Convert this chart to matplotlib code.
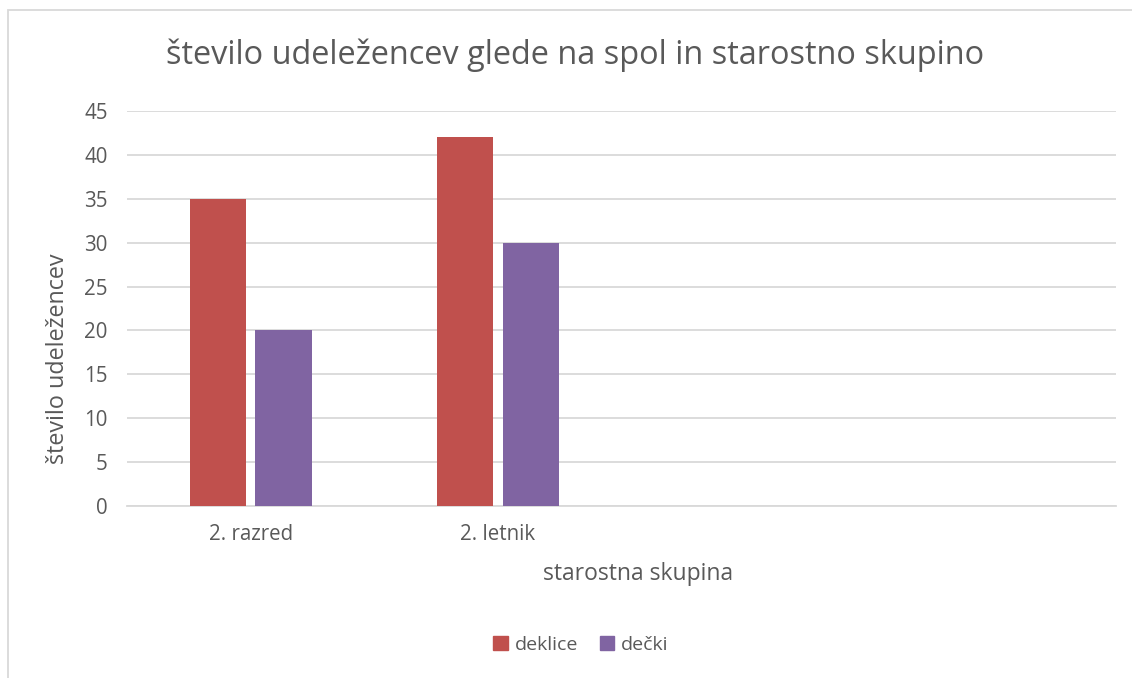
import matplotlib
matplotlib.use("Agg")
import matplotlib.pyplot as plt
from matplotlib.patches import Rectangle, Patch
import numpy as np

categories = ["2. razred", "2. letnik", "", ""]
deklice = [35, 42, None, None]
decki = [20, 30, None, None]
series_names = ["deklice", "dečki"]
title = "število udeležencev glede na spol in starostno skupino"
ylabel = "število udeležencev"
xlabel = "starostna skupina"
yticks = [0, 5, 10, 15, 20, 25, 30, 35, 40, 45]

RED = "#C0504D"
PURPLE = "#8064A2"
TXT = "#595959"
GRID = "#D9D9D9"

plt.rcParams['font.family'] = ['Open Sans', 'DejaVu Sans']

W, H = 1132, 678
fig = plt.figure(figsize=(W/100, H/100), dpi=100)
ax = fig.add_axes([127/W, 1-506/H, (1116-127)/W, (506-111)/H])

x = np.arange(len(categories))
bw = 0.227
off = 0.133
d_vals = [np.nan if v is None else v for v in deklice]
k_vals = [np.nan if v is None else v for v in decki]
ax.bar(x - off, d_vals, width=bw, color=RED, zorder=3)
ax.bar(x + off, k_vals, width=bw, color=PURPLE, zorder=3)

ax.set_xlim(-0.5, len(categories) - 0.5)
ax.set_ylim(0, 45)
ax.set_yticks(yticks)
ax.set_xticks(x)
ax.set_xticklabels(categories)
ax.yaxis.grid(True, color=GRID, linewidth=1.3, zorder=0)
ax.set_axisbelow(True)
for s in ["top", "right", "left"]:
    ax.spines[s].set_visible(False)
ax.spines["bottom"].set_color(GRID)
ax.spines["bottom"].set_linewidth(1.3)
ax.tick_params(axis="both", length=0, colors=TXT, labelsize=14.8)
ax.tick_params(axis="y", pad=14)
ax.tick_params(axis="x", pad=13)

fig.text(575/W, 1-55/H, title, ha="center", va="center", fontsize=23.4, color=TXT)
fig.text(58/W, 1-359/H, ylabel, ha="center", va="center", rotation=90, fontsize=16.8, color=TXT)
fig.text(638/W, 1-574/H, xlabel, ha="center", va="center", fontsize=16.5, color=TXT)

handles = [Patch(color=RED), Patch(color=PURPLE)]
leg = fig.legend(handles, series_names, loc="center", bbox_to_anchor=(581/W, 1-645/H),
                 ncol=2, frameon=False, fontsize=14, handlelength=0.75, handleheight=0.75,
                 handletextpad=0.35, columnspacing=1.1, labelcolor=TXT)

fig.patches.append(Rectangle((8/W, -0.1), 1.2, 1 - 10/H + 0.1, transform=fig.transFigure,
                             fill=False, edgecolor=GRID, linewidth=1.3))

fig.savefig("out.png", dpi=100, facecolor="white")
